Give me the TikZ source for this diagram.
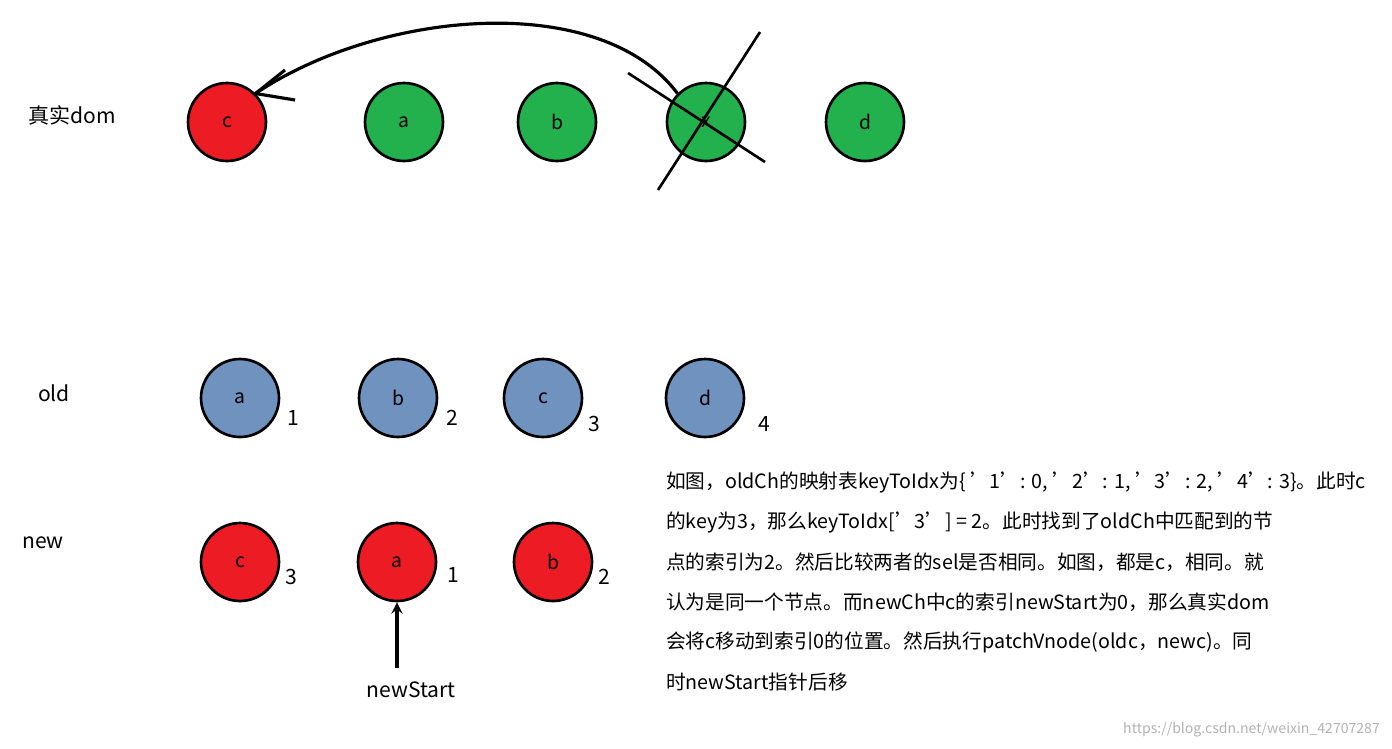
\documentclass[tikz,border=0pt]{standalone}
\usepackage{fontspec}
\setmainfont{Noto Sans CJK SC}
\definecolor{domred}{HTML}{ED1C24}
\definecolor{domgreen}{HTML}{22B14C}
\definecolor{domblue}{HTML}{7092BE}
\newcommand\q{\symbol{39}}
\tikzset{%
		every vnode/.style={
			circle,
			draw,
			line width=1.5pt,
			minimum size=1.56cm,
			font=\fontsize{11pt}{13pt}\selectfont
		},
		vnode red/.style={fill=domred},
		vnode green/.style={fill=domgreen},
		vnode blue/.style={fill=domblue},
		idx/.style={font=\fontsize{12pt}{14pt}\selectfont},
		tag/.style={font=\fontsize{12pt}{14pt}\selectfont},
		note/.style={anchor=west, font=\fontsize{11.2pt}{14pt}\selectfont},
	}

\begin{document}
\begin{tikzpicture}[x=0.02cm, y=-0.02cm, >=stealth]
			\useasboundingbox (0,0) rectangle (1392,748);
			% draw real dom nodes
			\foreach \m/\c/\x in {c/red/227,a/green/404,b/green/557,x/green/706,d/green/865}
			\node [every vnode/.try, vnode \c/.try] (dom-\m) at (\x,122) {\ifx x\m\else\m\fi};
			
			% draw old nodes
			\foreach \m/\x in {a/240,b/398,c/543,d/705}
			\node [every vnode/.try, vnode blue/.try] (old-\m) at (\x,398) {\m};
			
			% draw new nodes
			\foreach \m/\x in {c/240,a/397,b/553}
			\node [every vnode/.try, vnode red/.try] (new-\m) at (\x,562) {\m};
			
			% Annotate old and new indices
			\foreach \l/\x/\y in {1/293/418,2/452/418,3/594/424,4/764/424}
			\node [idx] at (\x,\y) {\l};
			\foreach \l/\x/\y in {3/291/577,1/453/575,2/604/577}
			\node [idx] at (\x,\y) {\l};
			
			% Annotate rows
			\node [tag] (lab-dom) at (72,115) {真实dom};
			\node [tag] (lab-old) at (54,393) {old};
			\node [tag] (lab-new) at (43,543) {new};
			
			% Cross out the matched node
			\draw [line width=1.5pt] (628,73) -- (765,162);
			\draw [line width=1.5pt] (760,32) -- (658,190);
			
			% Move arrow
			\draw [line width=1.8pt] (dom-x.north west) .. controls (600,-10) and (380,10) .. (dom-c.north east);
			\draw [line width=1.8pt] (295,100) -- (dom-c.north east) -- (285,70);
			
			% newStart pointer
			\node [tag] (lab-start) at (411,690) {newStart};
			\draw [->, line width=1.8pt] (lab-start.north -| new-a) ++(0,-8) -- (new-a.south);
			
			% Explanation
			\foreach \t [count=\i] in {%
				{如图，oldCh的映射表keyToIdx为\{ \q1\q: 0, \q2\q: 1, \q3\q: 2, \q4\q: 3\}。此时c},
				{的key为3，那么keyToIdx[\q3\q] = 2。此时找到了oldCh中匹配到的节},
				{点的索引为2。然后比较两者的sel是否相同。如图，都是c，相同。就},
				{认为是同一个节点。而newCh中c的索引newStart为0，那么真实dom},
				{会将c移动到索引0的位置。然后执行patchVnode(oldc，newc)。同},
				{时newStart指针后移}}
			\node [note] (note-\i) at (660,442+\i*40) {\t};
			
			\node [anchor=east, text=gray!60, font=\fontsize{8pt}{10pt}\selectfont] (mark) at (1386,730) {https://blog.csdn.net/weixin\_42707287};
\end{tikzpicture}
\end{document}
